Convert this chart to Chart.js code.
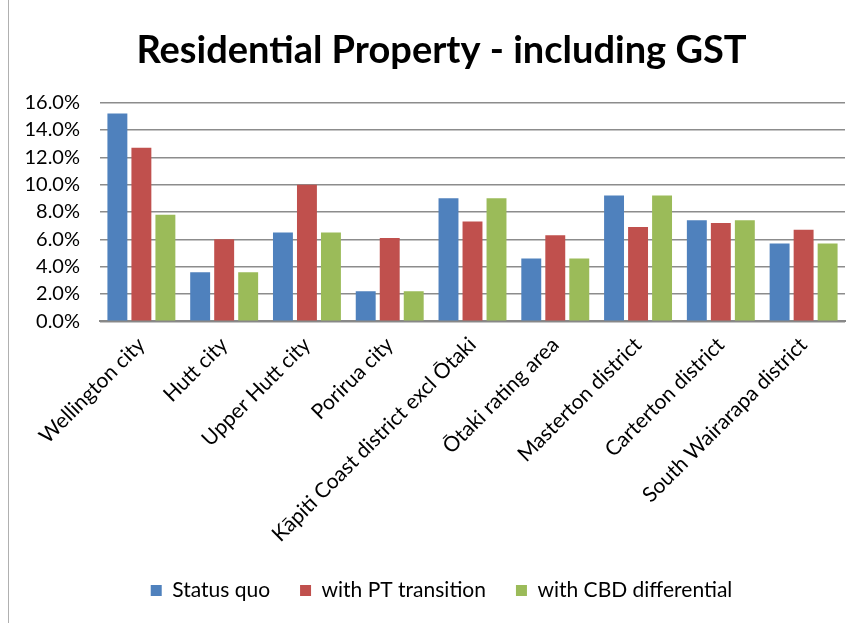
<!DOCTYPE html>
<html>
<head>
<meta charset="utf-8">
<script src="https://cdn.jsdelivr.net/npm/chart.js@4.4.1/dist/chart.umd.min.js"></script>
<style>
  body { margin: 0; background: #fff; }
  #wrap { position: relative; width: 861px; height: 623px; }
  #edge { position: absolute; left: 8px; top: 0; width: 1px; height: 623px; background: #b0b0b0; }
</style>
</head>
<body>
<div id="wrap">
  <canvas id="chart" width="861" height="623"></canvas>
  <div id="edge"></div>
</div>
<script>
const categories = ['Wellington city', 'Hutt city', 'Upper Hutt city', 'Porirua city',
  'Kāpiti Coast district excl Ōtaki', 'Ōtaki rating area', 'Masterton district',
  'Carterton district', 'South Wairarapa district'];
const statusQuo = [15.2, 3.6, 6.5, 2.2, 9.0, 4.6, 9.2, 7.4, 5.7];
const ptTransition = [12.7, 6.0, 10.0, 6.1, 7.3, 6.3, 6.9, 7.2, 6.7];
const cbdDifferential = [7.8, 3.6, 6.5, 2.2, 9.0, 4.6, 9.2, 7.4, 5.7];
const yTicks = [0, 2, 4, 6, 8, 10, 12, 14, 16];

const font = 'Lato, "Liberation Sans", sans-serif';

// y labels sit partly inside the left padding, so widen their clip area
const widenYAxis = {
    id: 'widenYAxis',
    afterLayout: chart => { chart.scales.y.left = 8; }
};

const ctx = document.getElementById('chart').getContext('2d');
const chart = new Chart(ctx, {
    type: 'bar',
    data: {
        labels: categories,
        datasets: [
            { label: 'Status quo', data: statusQuo, backgroundColor: '#4f81bd' },
            { label: 'with PT transition', data: ptTransition, backgroundColor: '#c0504d' },
            { label: 'with CBD differential', data: cbdDifferential, backgroundColor: '#9bbb59' }
        ]
    },
    plugins: [widenYAxis],
    options: {
        responsive: false,
        animation: false,
        categoryPercentage: 0.87,
        barPercentage: 0.83,
        // extra left padding keeps title and legend centred like the original
        layout: { padding: { left: 38, right: 16, bottom: 12 } },
        plugins: {
            title: {
                display: true,
                text: 'Residential Property - including GST',
                color: '#000',
                font: { family: font, size: 38, weight: 'bold' },
                padding: { top: 28, bottom: 29 }
            },
            legend: {
                position: 'bottom',
                labels: {
                    color: '#000',
                    font: { family: font, size: 21 },
                    boxWidth: 11,
                    boxHeight: 11,
                    padding: 30
                }
            },
            tooltip: { enabled: false }
        },
        scales: {
            x: {
                grid: { display: false },
                border: { color: '#888', width: 2 },
                ticks: {
                    color: '#000',
                    font: { family: font, size: 21 },
                    autoSkip: false,
                    maxRotation: 45,
                    minRotation: 45
                }
            },
            y: {
                min: 0,
                max: 16,
                afterBuildTicks: axis => { axis.ticks = yTicks.map(v => ({ value: v })); },
                afterFit: axis => { axis.width = 62; },
                grid: { color: '#8c8c8c', lineWidth: 1.5, drawTicks: false },
                border: { display: false },
                ticks: {
                    color: '#000',
                    padding: 20,
                    font: { family: font, size: 20 },
                    callback: v => v.toFixed(1) + '%'
                }
            }
        }
    }
});
</script>
</body>
</html>
